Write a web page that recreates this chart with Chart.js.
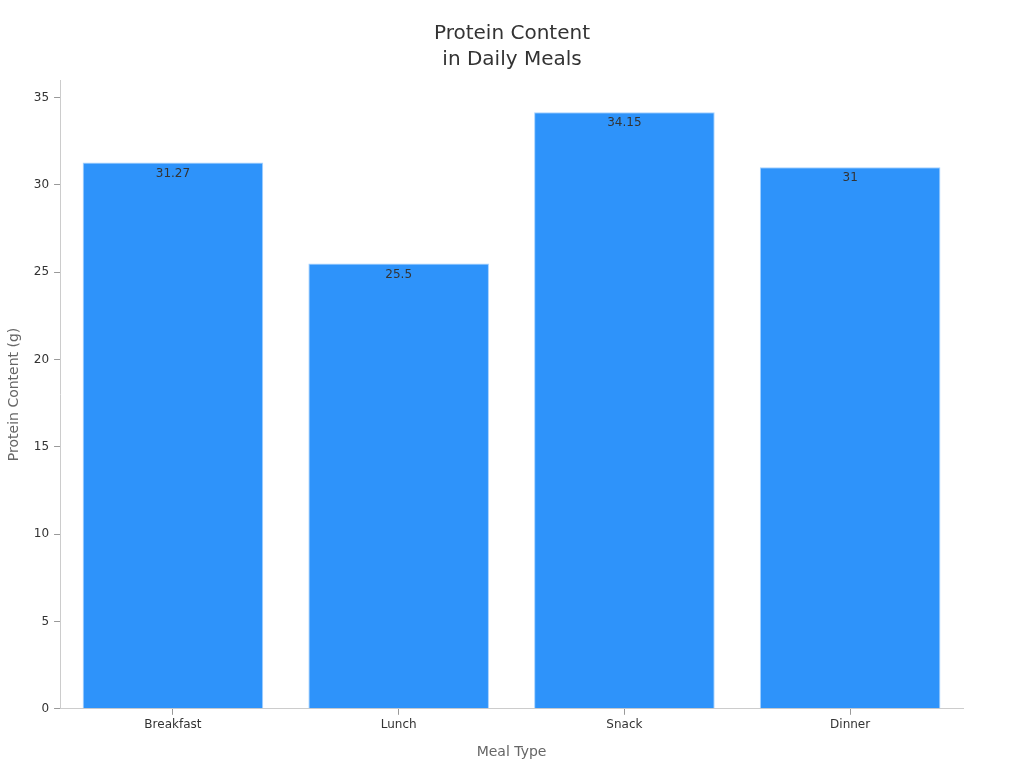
<!DOCTYPE html>
<html><head><meta charset="utf-8">
<script src="https://cdn.jsdelivr.net/npm/chart.js@4"></script>
<style>html,body{margin:0;padding:0;background:#fff}#w{width:1024px;height:768px}</style>
</head><body><div id="w"><canvas id="c"></canvas></div>
<script>
const categories = ["Breakfast", "Lunch", "Snack", "Dinner"];
const proteinValues = [31.27, 25.5, 34.15, 31];
const yTicks = [0, 5, 10, 15, 20, 25, 30, 35];
const titleLines = ['Protein Content', 'in Daily Meals'];

const labelPlugin = {
  id: 'valLabels',
  afterDatasetsDraw(chart) {
    const ctx = chart.ctx;
    const meta = chart.getDatasetMeta(0);
    ctx.save();
    ctx.font = '12px "DejaVu Sans", sans-serif';
    ctx.fillStyle = '#333';
    ctx.textAlign = 'center';
    ctx.textBaseline = 'middle';
    meta.data.forEach((bar, i) => {
      ctx.fillText(String(proteinValues[i]), bar.x, bar.y + 11);
    });
    ctx.restore();
  }
};

const titlePlugin = {
  id: 'pageTitle',
  afterDraw(chart) {
    const ctx = chart.ctx;
    ctx.save();
    ctx.font = '20px "DejaVu Sans", sans-serif';
    ctx.fillStyle = '#333';
    ctx.textAlign = 'center';
    ctx.textBaseline = 'middle';
    titleLines.forEach((t, i) => ctx.fillText(t, chart.width / 2, 34 + i * 26));
    ctx.restore();
  }
};

Chart.defaults.font.family = '"DejaVu Sans", sans-serif';
new Chart(document.getElementById('c'), {
  type: 'bar',
  data: {
    labels: categories,
    datasets: [{
      data: proteinValues,
      backgroundColor: '#2E93FA',
      borderColor: '#A6D2FF',
      borderWidth: 1,
      barPercentage: 0.8,
      categoryPercentage: 1.0
    }]
  },
  options: {
    responsive: true,
    maintainAspectRatio: false,
    animation: false,
    layout: { padding: { left: 6, right: 61, top: 80, bottom: 3 } },
    plugins: {
      legend: { display: false },
      tooltip: { enabled: false },
      title: { display: false }
    },
    scales: {
      x: {
        grid: { display: true, offset: false, drawOnChartArea: false, drawTicks: true, tickLength: 6, tickColor: '#999' },
        border: { color: '#ccc' },
        ticks: { color: '#333', font: { size: 12 }, padding: 3 },
        title: { display: true, text: 'Meal Type', color: '#666', font: { size: 14 }, padding: { top: 9 } }
      },
      y: {
        min: 0,
        max: 36,
        afterBuildTicks(axis) { axis.ticks = yTicks.map(v => ({ value: v })); },
        grid: { display: true, drawOnChartArea: false, drawTicks: true, tickLength: 6, tickColor: '#999' },
        border: { color: '#ccc' },
        ticks: { color: '#333', font: { size: 12 }, padding: 5 },
        title: { display: true, text: 'Protein Content (g)', color: '#666', font: { size: 14 }, padding: { top: 0, bottom: 6 } }
      }
    }
  },
  plugins: [labelPlugin, titlePlugin]
});
</script>
</body></html>
